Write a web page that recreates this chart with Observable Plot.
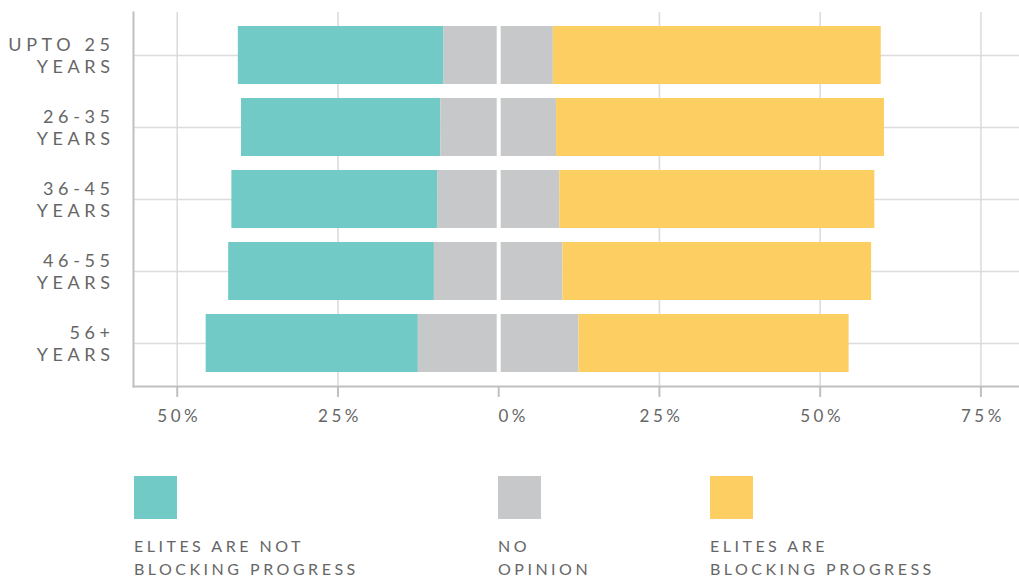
<!DOCTYPE html>
<html>
<head>
<meta charset="utf-8">
<script src="https://cdn.jsdelivr.net/npm/d3@7"></script>
<script src="https://cdn.jsdelivr.net/npm/@observablehq/plot@0.6"></script>
<style>
  html, body { margin: 0; padding: 0; background: #fff; }
  #wrap { position: relative; width: 1019px; height: 579px; font-family: Lato, "Open Sans", sans-serif; }
  #chart svg g[aria-label="y-axis tick label"] { letter-spacing: 4.6px; }
  #chart svg g[aria-label="x-axis tick label"] { letter-spacing: 3.5px; }
  .item { position: absolute; top: 476px; }
  .sw { width: 43px; height: 43px; }
  .lab { margin-top: 15px; font-size: 16px; line-height: 23px; letter-spacing: 3.5px; color: #666; white-space: nowrap; }
</style>
</head>
<body>
<div id="wrap">
  <div id="chart"></div>
  <div id="legend"></div>
</div>
<script>
// ---- data ----
const groups = ["UPTO 25\nYEARS", "26-35\nYEARS", "36-45\nYEARS", "46-55\nYEARS", "56+\nYEARS"];
const notBlocking = [32, 31, 32, 32, 33];   // % "Elites are not blocking progress"
const noOpinion   = [17, 18, 19, 20, 25];   // % "No opinion"
const blocking    = [51, 51, 49, 48, 42];   // % "Elites are blocking progress"
const categories  = ["ELITES ARE NOT\nBLOCKING PROGRESS", "NO\nOPINION", "ELITES ARE\nBLOCKING PROGRESS"];
const colors      = ["#72cac6", "#c7c8ca", "#fdcf63"];
const xTicks      = [-50, -25, 0, 25, 50, 75];
const gridTicks   = [-50, -25, 25, 50, 75];

// ---- diverging segments ----
const segments = [];
groups.forEach((g, i) => {
  const h = noOpinion[i] / 2;
  segments.push({group: g, cat: categories[0], x1: -h - notBlocking[i], x2: -h});
  segments.push({group: g, cat: categories[1], x1: -h, x2: h});
  segments.push({group: g, cat: categories[2], x1: h, x2: h + blocking[i]});
});

const axisGray = "#c0c0c0";
const gridGray = "#dcdcdc";
const fmt = d => Math.abs(d) + "%";

const chart = Plot.plot({
  width: 1019,
  height: 440,
  marginLeft: 133,
  marginRight: 0,
  marginTop: 12,
  marginBottom: 54,
  style: {fontFamily: "Lato, 'Open Sans', sans-serif", background: "#fff"},
  x: {domain: [-56.8, 81.0]},
  y: {domain: groups, padding: 0.194},
  color: {domain: categories, range: colors},
  marks: [
    Plot.gridX(gridTicks, {stroke: gridGray, strokeOpacity: 1, strokeWidth: 1.6}),
    Plot.gridY({stroke: gridGray, strokeOpacity: 1, strokeWidth: 1.7}),
    Plot.barX(segments, {y: "group", x1: "x1", x2: "x2", fill: "cat"}),
    Plot.ruleX([0], {stroke: "#fff", strokeWidth: 4}),
    Plot.frame({anchor: "left", stroke: axisGray, strokeWidth: 2}),
    Plot.frame({anchor: "bottom", stroke: axisGray, strokeWidth: 2}),
    // tick marks only
    Plot.axisX(xTicks, {
      tickFormat: () => "", tickSize: 11,
      stroke: axisGray, strokeWidth: 2, strokeOpacity: 1, label: null
    }),
    // tick labels
    Plot.axisX(xTicks.filter(d => d !== 0), {
      tickFormat: fmt, tickSize: 0, tickPadding: 23, dx: 2,
      fill: "#666", fontSize: 17, label: null
    }),
    Plot.axisX([0], {
      tickFormat: fmt, tickSize: 0, tickPadding: 23, dx: 15,
      fill: "#666", fontSize: 17, label: null
    }),
    Plot.axisY({
      tickSize: 0, tickPadding: 19, dy: -1,
      fill: "#666", fontSize: 18, lineHeight: 1.22, label: null
    })
  ]
});
document.getElementById("chart").appendChild(chart);

// ---- legend ----
const legendX = [134, 498, 710];
const legend = document.getElementById("legend");
categories.forEach((c, i) => {
  const item = document.createElement("div");
  item.className = "item";
  item.style.left = legendX[i] + "px";
  const sw = document.createElement("div");
  sw.className = "sw";
  sw.style.background = colors[i];
  const lab = document.createElement("div");
  lab.className = "lab";
  lab.innerHTML = c.split("\n").join("<br>");
  item.appendChild(sw);
  item.appendChild(lab);
  legend.appendChild(item);
});
</script>
</body>
</html>
